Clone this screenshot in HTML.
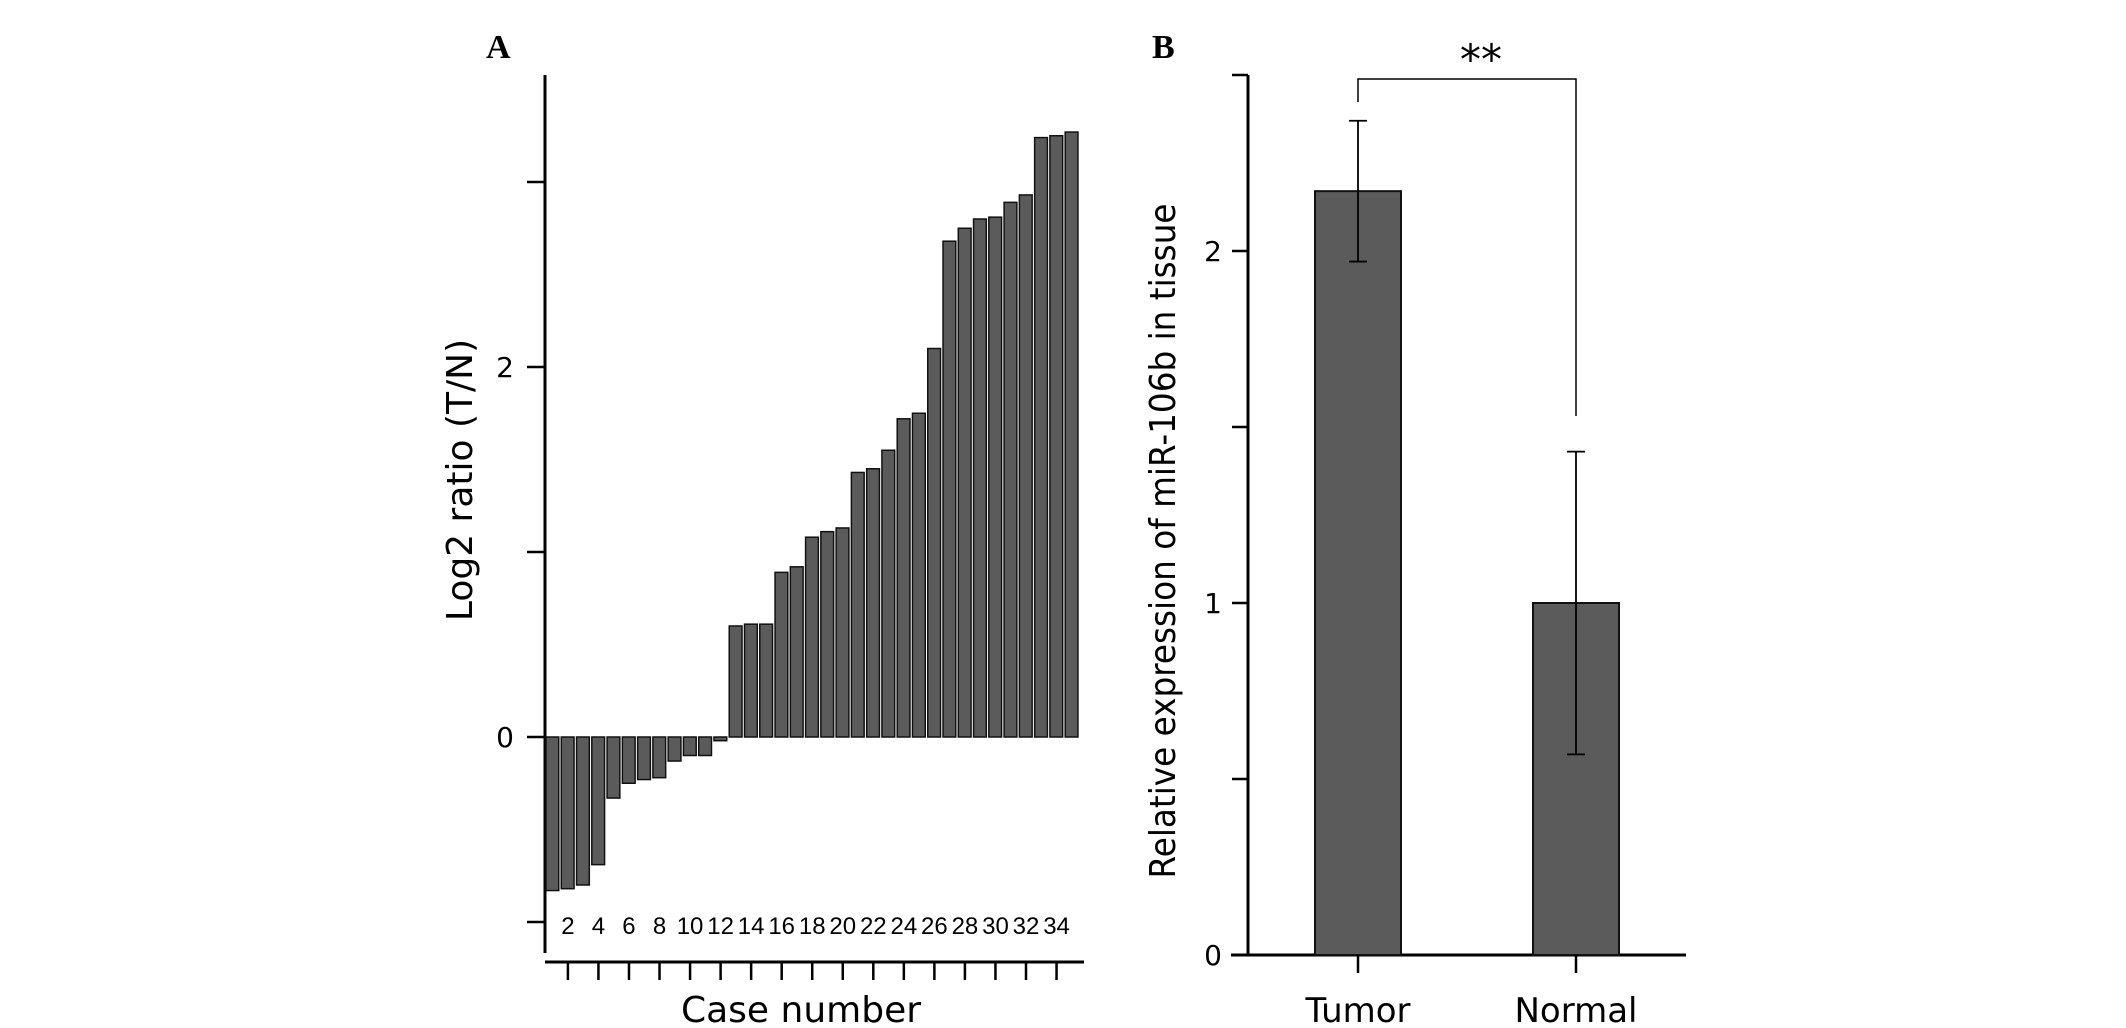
<!DOCTYPE html>
<html><head><meta charset="utf-8"><style>
html,body{margin:0;padding:0;background:#fff;}
svg{display:block;font-family:"DejaVu Sans","Liberation Sans",sans-serif;}
</style></head><body>
<svg id="c" width="2126" height="1028" viewBox="0 0 2126 1028">
<text x="486" y="58" font-family="Liberation Serif,serif" font-weight="bold" font-size="34">A</text>
<text x="1152" y="58" font-family="Liberation Serif,serif" font-weight="bold" font-size="34">B</text>
<g id="ga"></g>
<g id="gb"></g>
</svg>
<script>
const caseValues=[-0.83,-0.82,-0.80,-0.69,-0.33,-0.25,-0.23,-0.22,-0.13,-0.10,-0.10,-0.02,0.60,0.61,0.61,0.89,0.92,1.08,1.11,1.13,1.43,1.45,1.55,1.72,1.75,2.10,2.68,2.75,2.80,2.81,2.89,2.93,3.24,3.25,3.27];
const aTicks=[-1,0,1,2,3];
const aTickLabels=["","0","","2",""];
const groups=["Tumor","Normal"];
const means=[2.17,1.0];
const errs=[0.20,0.43];
const bTicks=[0,0.5,1,1.5,2,2.5];
const bTickLabels=["0","","1","","2",""];
const NS="http://www.w3.org/2000/svg";
function mk(p,t,a){const e=document.createElementNS(NS,t);for(const k in a)e.setAttribute(k,a[k]);p.appendChild(e);return e;}
const ga=document.getElementById('ga'),gb=document.getElementById('gb');
// Panel A
const ax0=545,bw=15.27;
const ya=v=>737-v*185;
const xa=i=>ax0+i*bw;
let e=mk(ga,'line',{x1:ax0,y1:75,x2:ax0,y2:953,stroke:'#000','stroke-width':3});

e=mk(ga,'line',{x1:ax0,y1:962,x2:1084,y2:962,stroke:'#000','stroke-width':3});

aTicks.forEach((t,i)=>{
 let l=mk(ga,'line',{x1:ax0-18,y1:ya(t),x2:ax0,y2:ya(t),stroke:'#000','stroke-width':2.5});
 
 if(aTickLabels[i]){let tx=mk(ga,'text',{x:514,y:ya(t)+10,'text-anchor':'end','font-size':28});tx.textContent=aTickLabels[i];
 }
});
caseValues.forEach((v,i)=>{
 const y0=ya(0),y1=ya(v);
 let r=mk(ga,'rect',{x:xa(i)+1,y:Math.min(y0,y1),width:bw-2.5,height:Math.max(1.5,Math.abs(y1-y0)),fill:'#5b5b5b',stroke:'#111','stroke-width':1.5});
 
 if((i+1)%2===0){
  const cx=xa(i)+bw/2;
  let l=mk(ga,'line',{x1:cx,y1:962,x2:cx,y2:980,stroke:'#000','stroke-width':2.5});
  
  let t=mk(ga,'text',{x:cx,y:934,'text-anchor':'middle','font-size':24,'font-family':'Liberation Sans,sans-serif'});t.textContent=String(i+1);
  
 }
});
e=mk(ga,'text',{x:801,y:1022,'text-anchor':'middle','font-size':36});e.textContent='Case number';

e=mk(ga,'text',{x:0,y:0,'text-anchor':'middle','font-size':36,transform:'translate(472,480) rotate(-90)'});e.textContent='Log2  ratio (T/N)';

// Panel B
const bx0=1248;
const yb=v=>955-v*352;
const gx=[1358,1576];
e=mk(gb,'line',{x1:bx0,y1:75,x2:bx0,y2:955,stroke:'#000','stroke-width':3});

e=mk(gb,'line',{x1:1231,y1:955,x2:1686,y2:955,stroke:'#000','stroke-width':3});

bTicks.forEach((t,i)=>{
 let l=mk(gb,'line',{x1:bx0-16,y1:yb(t),x2:bx0,y2:yb(t),stroke:'#000','stroke-width':2.5});
 
 if(bTickLabels[i]){let tx=mk(gb,'text',{x:1222,y:yb(t)+10,'text-anchor':'end','font-size':28});tx.textContent=bTickLabels[i];
 }
});
groups.forEach((g,i)=>{
 const cx=gx[i];
 let r=mk(gb,'rect',{x:cx-43,y:yb(means[i]),width:86,height:yb(0)-yb(means[i]),fill:'#5b5b5b',stroke:'#111','stroke-width':2});
 
 const hi=yb(means[i]+errs[i]),lo=yb(means[i]-errs[i]);
 let l=mk(gb,'path',{d:`M${cx},${hi}V${lo}M${cx-9},${hi}H${cx+9}M${cx-9},${lo}H${cx+9}`,stroke:'#000','stroke-width':1.8,fill:'none'});
 
 let t=mk(gb,'line',{x1:cx,y1:955,x2:cx,y2:973,stroke:'#000','stroke-width':2.5});
 
 let tx=mk(gb,'text',{x:cx,y:1022,'text-anchor':'middle','font-size':34});tx.textContent=g;
 
});
e=mk(gb,'path',{d:`M${gx[0]},102V79H${gx[1]}V416`,stroke:'#000','stroke-width':1.5,fill:'none'});

e=mk(gb,'text',{x:1481,y:74,'text-anchor':'middle','font-size':42});e.textContent='**';

e=mk(gb,'text',{x:0,y:0,'text-anchor':'middle','font-size':36,textLength:675,lengthAdjust:'spacingAndGlyphs',transform:'translate(1175,541) rotate(-90)'});e.textContent='Relative expression of miR-106b in tissue';

</script>
</body></html>
